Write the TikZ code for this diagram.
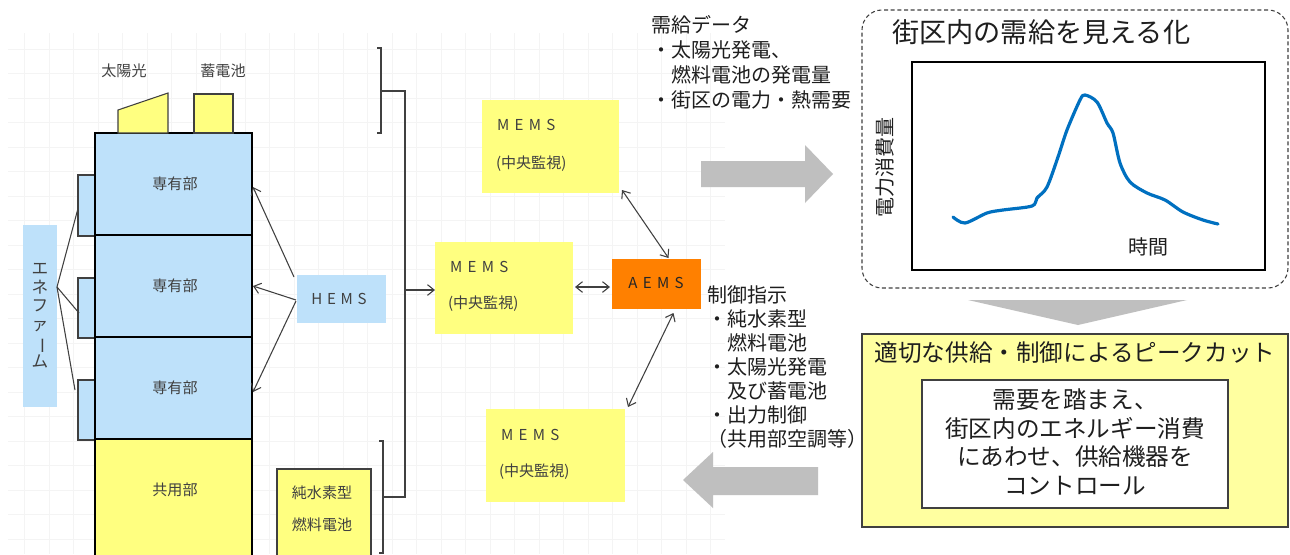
\documentclass[tikz,border=0pt]{standalone}
\usepackage{fontspec}
\setmainfont{Noto Sans CJK JP}
\usetikzlibrary{fit,arrows.meta,calc}
\definecolor{lblue}{RGB}{190,225,250}
\definecolor{yel}{RGB}{255,255,128}
\definecolor{yelbox}{RGB}{255,255,160}
\definecolor{aemsc}{RGB}{255,128,0}
\definecolor{garr}{RGB}{191,191,191}
\definecolor{curvec}{RGB}{0,112,192}
\definecolor{gridc}{RGB}{244,244,244}
\definecolor{dk}{RGB}{64,64,64}
\definecolor{tx}{RGB}{30,30,30}
\begin{document}
\begin{tikzpicture}[x=0.75pt,y=-0.75pt,
  >={Straight Barb[length=5pt,width=8pt]},
  box/.style={inner sep=0pt,outer sep=0pt},
  txt/.style={inner sep=0pt,outer sep=0pt,text=dk},
  rtxt/.style={inner sep=0pt,outer sep=0pt,text=tx},
  conn/.style={draw=dk,line width=0.8pt},
  floorbox/.style={box,fill=lblue,draw=black,line width=1.9pt},
  unitbox/.style={box,fill=lblue,draw=dk,line width=1pt},
  memsbox/.style={box,fill=yel},
  fsmall/.style={font=\fontsize{11.3}{13}\selectfont},
  fmems/.style={txt,anchor=west,font=\fontsize{11.3}{13}\selectfont,text=black!75},
  fmid/.style={font=\fontsize{15}{18}\selectfont},
  fbig/.style={font=\fontsize{17.7}{21.5}\selectfont},
  ftitle/.style={font=\fontsize{20.4}{24}\selectfont}
]
\useasboundingbox (0,0) rectangle (1290,554);
\clip (0,0) rectangle (1290,554);
\fill[white] (0,0) rectangle (1290,554);
\draw[gridc,line width=0.6pt,xstep=18.375pt,ystep=18.375pt] (8,33) grid (725,554);

% ---------- building ----------
\node[unitbox, fit={(78,175)(95,236)}] (u1) {};
\node[unitbox, fit={(78,278)(95,338)}] (u2) {};
\node[unitbox, fit={(78,380)(95,440)}] (u3) {};
\node[floorbox, fit={(95,133)(252,235)}] (f1) {};
\node[floorbox, fit={(95,235)(252,337)}] (f2) {};
\node[floorbox, fit={(95,337)(252,439)}] (f3) {};
\node[box, fill=yel, draw=black, line width=1.9pt, fit={(95,439)(252,575)}] (f4) {};
\node[txt, fsmall] (f1t) at (175,184) {専有部};
\node[txt, fsmall] (f2t) at (175,286) {専有部};
\node[txt, fsmall] (f3t) at (175,388) {専有部};
\node[txt, fsmall] (f4t) at (175,490) {共用部};

\filldraw[fill=yel, draw=dk, line width=0.8pt] (118,133) -- (118,110) -- (168,93) -- (168,133) -- cycle;
\node[box, fill=yel, draw=dk, line width=0.8pt, fit={(194,94)(233,133)}] (batt) {};
\node[txt, fsmall] (lsolar) at (124,71) {太陽光};
\node[txt, fsmall] (lbatt) at (223,71) {蓄電池};

% ---------- ene-farm ----------
\node[box, fill=lblue, fit={(23,225)(57,407)}] (ef) {};
\node[txt, align=center, font=\fontsize{12.5}{14}\selectfont] (eft) at (40,316)
  {エ\\ネ\\フ\\ァ\\\rotatebox[origin=c]{-90}{ー}\\ム};
\coordinate (efp) at ($(ef.east)+(0,-29)$);
\draw[conn] (efp) -- ($(u1.west)+(0,3)$);
\draw[conn] (efp) -- ($(u2.west)+(1,5)$);
\draw[conn] (efp) -- ($(u3.west)+(-3,-20)$);

% ---------- HEMS ----------
\node[box, fill=lblue, fit={(297,275)(386,323)}] (hems) {};
\node[txt, fsmall, text=black!75] (hemst) at (339,299) {H\hspace{3.5pt}E\hspace{3.5pt}M\hspace{3.5pt}S};
\draw[conn,->] ($(hems.north west)+(-3,2)$) -- ($(f1.east)+(1,3)$);
\draw[conn,->] ($(hems.west)+(-1,1)$) -- ($(f2.east)+(1,0)$);
\draw[conn,->] ($(hems.west)+(-1,2)$) -- ($(f3.east)+(1,4)$);

% ---------- fuel cell ----------
\node[box, fill=yel, draw=dk, line width=1.2pt, fit={(277,469)(371,570)}] (fc) {};
\node[txt, fsmall] (fct1) at (322,493) {純水素型};
\node[txt, fsmall] (fct2) at (322,525) {燃料電池};

% ---------- brackets ----------
\draw[conn] (377,48) -- (381,48) -- (381,133) -- (377,133);
\draw[conn] (381,91) -- (405,91) -- (405,497) -- (383,497);
\draw[conn] (379,441) -- (383,441) -- (383,553) -- (379,553);

% ---------- MEMS / AEMS ----------
\node[memsbox, fit={(482,100)(619,193)}] (mems1) {};
\node[memsbox, fit={(435,242)(573,334)}] (mems2) {};
\node[memsbox, fit={(486,409)(625,502)}] (mems3) {};
\node[fmems] (m1a) at (497,125) {M\hspace{4pt}E\hspace{4pt}M\hspace{4pt}S};
\node[fmems] (m1b) at (496,164) {(中央監視)};
\node[fmems] (m2a) at (450,267) {M\hspace{4pt}E\hspace{4pt}M\hspace{4pt}S};
\node[fmems] (m2b) at (448,304) {(中央監視)};
\node[fmems] (m3a) at (501,435) {M\hspace{4pt}E\hspace{4pt}M\hspace{4pt}S};
\node[fmems] (m3b) at (499,472) {(中央監視)};
\node[box, fill=aemsc, fit={(612,259)(701,309)}] (aems) {};
\node[txt, fsmall, text=black!85] (aemst) at (656,283) {A\hspace{4pt}E\hspace{4pt}M\hspace{4pt}S};

\coordinate (bj) at (405,290);
\draw[conn,->] (bj) -- (bj -| mems2.west);
\draw[conn,<->] ($(mems1.south east)+(3,-3)$) -- ($(aems.north)+(12,-1)$);
\coordinate (c1) at ($(mems2.east)+(2,-1)$);
\draw[conn,<->] (c1) -- ($(c1 -| aems.west)+(-2,0)$);
\draw[conn,<->] ($(aems.south)+(17,4)$) -- ($(mems3.north east)+(3,-2)$);

% ---------- text blocks ----------
\foreach \t [count=\i] in {需給データ,・太陽光発電、,　燃料電池の発電量,・街区の電力・熱需要}
  \node[rtxt, fmid, anchor=base west] (dd\i) at (651,{32+(\i-1)*25}) {\t};
\foreach \t [count=\i] in {制御指示,・純水素型,　燃料電池,・太陽光発電,　及び蓄電池,・出力制御,（共用部空調等）}
  \node[rtxt, fmid, anchor=base west] (cc\i) at (707,{302+(\i-1)*24}) {\t};

% ---------- gray arrows ----------
\fill[garr] (701,161) -- (805,161) -- (805,145) -- (833,174) -- (805,203) -- (805,187) -- (701,187) -- cycle;
\fill[garr] (818,467) -- (713,467) -- (713,452) -- (683,480) -- (713,508) -- (713,495) -- (818,495) -- cycle;
\fill[garr] (968,300) -- (1187,300) -- (1078,325) -- cycle;

% ---------- visualisation panel ----------
\node[box, draw=dk, dash pattern=on 3pt off 2pt, rounded corners=15pt, line width=0.8pt, fit={(862,10)(1288,288)}] (vis) {};
\node[rtxt, ftitle, anchor=west] (vist) at (892,32) {街区内の需給を見える化};
\node[box, draw=black, line width=1pt, fit={(912,62)(1265,270)}] (chart) {};
\node[rtxt, fmid, rotate=90] (ylab) at (885,167) {電力消費量};
\node[rtxt, fmid] (xlab) at (1148,247) {時間};
\draw[curvec, line width=2.4pt, line cap=round, line join=round]
  plot[smooth, tension=0.5] coordinates {
  (953,217) (965,223) (987,213) (1003,210) (1032,206) (1037,198) (1047,187)
  (1058,157) (1067,130) (1080,100) (1085,95) (1097,102) (1107,123) (1113,133)
  (1120,163) (1130,182) (1147,193) (1165,200) (1183,212) (1203,220) (1218,224)};

% ---------- peak cut box ----------
\node[box, fill=yelbox, draw=dk, line width=0.9pt, fit={(862,334)(1288,527)}] (peak) {};
\node[rtxt, fbig] (peakt) at (1075,353) {適切な供給・制御によるピークカット};
\node[box, fill=white, draw=dk, line width=0.9pt, fit={(922,380)(1228,508)}] (ctrl) {};
\node[rtxt, fbig, align=center] (ctrlt) at (1075,442)
  {需要を踏まえ、\\街区内のエネルギー消費\\にあわせ、供給機器を\\コントロール};
\end{tikzpicture}
\end{document}
